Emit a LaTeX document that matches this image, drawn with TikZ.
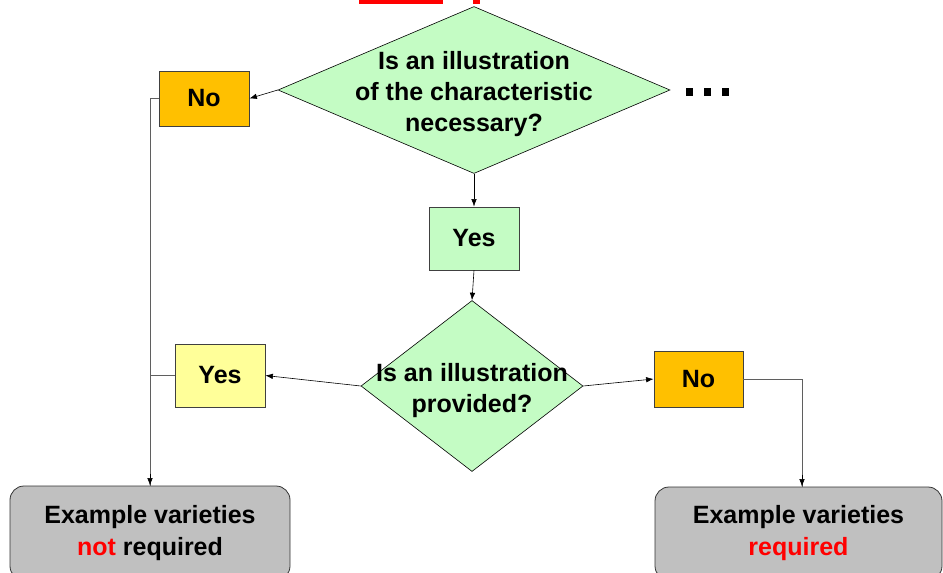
\documentclass[tikz,border=0pt]{standalone}
\usepackage{fontspec}
\setmainfont{Liberation Sans}
\usepackage{tikz}
\usetikzlibrary{arrows.meta,positioning,shapes.geometric,calc}
\definecolor{deccol}{RGB}{196,252,196}
\definecolor{nocol}{RGB}{255,192,0}
\definecolor{yescol}{RGB}{255,255,153}
\definecolor{endcol}{RGB}{192,192,192}
\definecolor{linecol}{RGB}{95,95,95}

\begin{document}
\begin{tikzpicture}[
  x=1pt, y=-1pt, >={Latex[length=7.5pt,width=5.5pt]},
  t/.style={font=\bfseries\fontsize{25}{31}\selectfont, align=center},
  d/.style={draw, diamond, fill=deccol, inner sep=0pt, line width=0.6pt},
  b/.style={draw=black!75, t, inner sep=0pt, line width=0.8pt},
  g/.style={draw=black!80, t, fill=endcol, rounded corners=14pt, inner sep=0pt, line width=0.8pt},
  e/.style={->, line width=0.6pt},
  l/.style={draw=linecol, line width=0.8pt},
]
\useasboundingbox (0,0) rectangle (943,573);
% cut-off marks at the top edge
\fill[red] (359,-2) rectangle (443,3.5);
\fill[red] (473,-2) rectangle (480,3.5);

\node[d, minimum width=392pt, minimum height=167pt,
  label={[t, yshift=-4pt]center:{Is an illustration\\of the characteristic\\necessary?}}] (q1) at (474,90) {};
\node[b, fill=nocol, minimum width=90pt, minimum height=55pt] (n1) at (204,98.5) {No};
\node[b, fill=deccol, minimum width=90pt, minimum height=63pt] (y1) at (474,238.5) {Yes};
\node[d, minimum width=222pt, minimum height=171pt,
  label={[t, yshift=-4.5pt]center:{Is an illustration\\provided?}}] (q2) at (472,386) {};
\node[b, fill=yescol, minimum width=90pt, minimum height=63pt] (y2) at (220,375.5) {Yes};
\node[b, fill=nocol, minimum width=89pt, minimum height=56pt] (n2) at (698.5,379) {No};
\node[g, minimum width=280pt, minimum height=94pt,
  font=\bfseries\fontsize{25}{32}\selectfont] (g1) at (150,533)
  {Example varieties\\\textcolor{red}{not} required};
\node[g, minimum width=287pt, minimum height=93pt,
  font=\bfseries\fontsize{25}{32}\selectfont] (g2) at (798.5,533.5)
  {Example varieties\\\textcolor{red}{required}};
% more branches
\foreach \x in {689.7,707.2,725.3}
  \fill (\x-3.7,88.3) rectangle (\x+3.7,95.7);

\draw[e] (q1.west) -- (n1.east);
\draw[e] (q1.south) -- (y1.north);
\draw[e] (y1.south) -- (q2.north);
\draw[e] (q2.west) -- (y2.east);
\draw[e] (q2.east) -- (n2.west);
\draw[l] (n1.west) -| (g1.north);
\draw[l] (y2.west) -- (y2.west -| g1.north);
\draw[l] (n2.east) -| ([xshift=3.5pt]g2.north);
\draw[e] ($(g1.north)+(0,-12)$) -- (g1.north);
\draw[e] ($([xshift=3.5pt]g2.north)+(0,-12)$) -- ([xshift=3.5pt]g2.north);
\end{tikzpicture}
\end{document}
